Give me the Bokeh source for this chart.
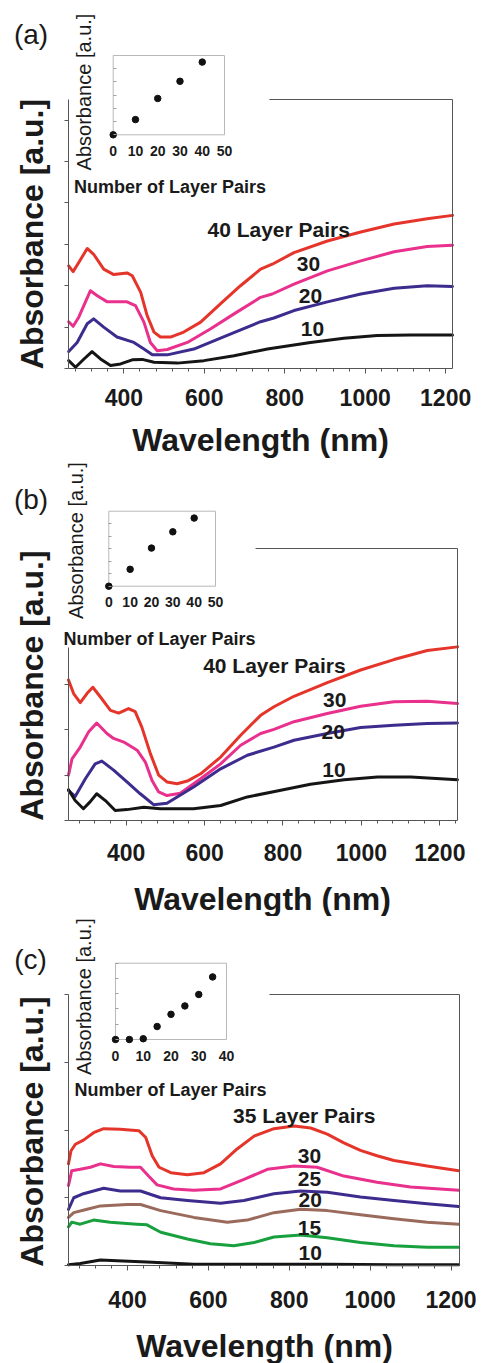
import math
from bokeh.plotting import figure
from bokeh.models import Range1d, LinearAxis, FixedTicker, SingleIntervalTicker, Label
from bokeh.layouts import column
from bokeh.embed import file_html
from bokeh.resources import INLINE
from bokeh.core.properties import value

FONT = "Liberation Sans"
INK = "#1a1a1a"
AXIS = "#555555"
BOXC = "#b8b8b8"
RED = "#e5352b"
PINK = "#e8308c"
PURPLE = "#3d2b8e"
BLACK = "#151515"
BROWN = "#9a6b5c"
GREEN = "#17a03d"

# ---------------- Panel (a) data ----------------
A_WL_40 = [263, 274, 288, 309, 325, 350, 375, 408, 421, 442, 458, 475, 491, 516, 549, 591, 640, 690, 740, 769, 823, 906, 989, 1072, 1154, 1217]
A_AB_40 = [2.48, 2.34, 2.56, 2.90, 2.76, 2.40, 2.27, 2.31, 2.24, 1.84, 1.28, 0.88, 0.76, 0.76, 0.88, 1.12, 1.56, 2.00, 2.40, 2.52, 2.80, 3.08, 3.30, 3.49, 3.62, 3.70]
A_WL_30 = [263, 274, 288, 317, 334, 359, 408, 429, 450, 466, 483, 508, 558, 616, 674, 740, 769, 823, 906, 989, 1072, 1154, 1217]
A_AB_30 = [1.13, 1.02, 1.24, 1.88, 1.76, 1.61, 1.61, 1.52, 1.12, 0.63, 0.43, 0.46, 0.63, 0.96, 1.32, 1.72, 1.80, 2.04, 2.36, 2.60, 2.82, 2.95, 2.98]
A_WL_20 = [263, 284, 309, 325, 350, 383, 425, 450, 471, 508, 574, 657, 740, 773, 823, 906, 989, 1072, 1154, 1217]
A_AB_20 = [0.41, 0.63, 1.08, 1.20, 1.00, 0.76, 0.63, 0.47, 0.33, 0.33, 0.47, 0.80, 1.13, 1.22, 1.40, 1.61, 1.80, 1.94, 2.00, 1.98]
A_WL_10 = [263, 280, 301, 321, 342, 367, 392, 421, 446, 475, 533, 599, 674, 757, 864, 947, 1030, 1113, 1217]
A_AB_10 = [0.19, 0.03, 0.23, 0.41, 0.23, 0.07, 0.11, 0.21, 0.22, 0.15, 0.13, 0.19, 0.31, 0.47, 0.63, 0.73, 0.80, 0.81, 0.81]
A_LABELS = ["40 Layer Pairs", "30", "20", "10"]
A_LABEL_X = [785, 859, 864, 869]
A_LABEL_Y = [3.35, 2.53, 1.76, 0.96]
A_INSET_N = [0, 10, 20, 30, 40]
A_INSET_ABS = [0.0, 0.23, 0.55, 0.81, 1.10]
A_INSET_TICKS = [0, 10, 20, 30, 40, 50]

# ---------------- Panel (b) data ----------------
B_WL_40 = [253, 266, 283, 300, 315, 334, 360, 381, 406, 423, 440, 462, 483, 504, 530, 556, 590, 641, 692, 743, 777, 828, 913, 998, 1083, 1168, 1245]
B_AB_40 = [3.10, 2.80, 2.60, 2.80, 2.94, 2.73, 2.43, 2.37, 2.47, 2.40, 2.06, 1.47, 1.00, 0.85, 0.81, 0.87, 1.03, 1.40, 1.88, 2.32, 2.51, 2.74, 3.04, 3.32, 3.55, 3.75, 3.83]
B_WL_30 = [253, 262, 283, 304, 325, 351, 368, 394, 428, 449, 466, 483, 504, 538, 590, 641, 692, 743, 777, 828, 913, 998, 1083, 1168, 1245]
B_AB_30 = [1.00, 1.36, 1.62, 1.95, 2.15, 1.92, 1.81, 1.73, 1.55, 1.29, 0.88, 0.63, 0.55, 0.60, 0.92, 1.25, 1.66, 1.92, 2.01, 2.18, 2.36, 2.52, 2.62, 2.63, 2.58]
B_WL_20 = [253, 270, 296, 321, 338, 368, 402, 436, 470, 504, 572, 641, 709, 777, 828, 913, 998, 1083, 1168, 1245]
B_AB_20 = [0.66, 0.53, 0.92, 1.25, 1.31, 1.11, 0.85, 0.59, 0.35, 0.38, 0.74, 1.14, 1.44, 1.62, 1.77, 1.92, 2.05, 2.10, 2.14, 2.15]
B_WL_10 = [253, 270, 291, 308, 325, 347, 372, 402, 445, 487, 572, 641, 709, 785, 870, 956, 1041, 1126, 1245]
B_AB_10 = [0.68, 0.44, 0.26, 0.41, 0.59, 0.44, 0.22, 0.24, 0.29, 0.26, 0.26, 0.33, 0.52, 0.65, 0.80, 0.90, 0.96, 0.96, 0.90]
B_LABELS = ["40 Layer Pairs", "30", "20", "10"]
B_LABEL_X = [778, 932, 928, 930]
B_LABEL_Y = [3.43, 2.65, 1.95, 1.11]
B_INSET_N = [0, 10, 20, 30, 40]
B_INSET_ABS = [0.0, 0.27, 0.61, 0.87, 1.09]
B_INSET_TICKS = [0, 10, 20, 30, 40, 50]

# ---------------- Panel (c) data ----------------
C_WL_35 = [254, 260, 271, 291, 316, 341, 382, 428, 445, 461, 478, 507, 548, 589, 630, 671, 713, 762, 812, 853, 894, 935, 976, 1017, 1059, 1141, 1219]
C_AB_35 = [1.50, 1.69, 1.79, 1.85, 1.96, 2.02, 2.01, 1.99, 1.89, 1.62, 1.45, 1.37, 1.34, 1.37, 1.50, 1.72, 1.91, 2.02, 2.06, 2.03, 1.94, 1.81, 1.70, 1.62, 1.55, 1.47, 1.40]
C_WL_30 = [254, 262, 283, 308, 333, 366, 407, 432, 452, 473, 514, 564, 630, 688, 746, 812, 869, 935, 1017, 1100, 1219]
C_AB_30 = [1.18, 1.40, 1.42, 1.45, 1.50, 1.46, 1.45, 1.45, 1.32, 1.19, 1.13, 1.11, 1.13, 1.27, 1.42, 1.47, 1.45, 1.32, 1.23, 1.16, 1.11]
C_WL_25 = [254, 267, 291, 341, 382, 432, 482, 548, 630, 688, 762, 828, 894, 976, 1059, 1141, 1219]
C_AB_25 = [0.83, 1.00, 1.06, 1.14, 1.10, 1.10, 1.00, 0.96, 0.92, 0.96, 1.06, 1.10, 1.08, 1.01, 0.96, 0.91, 0.87]
C_WL_20 = [254, 267, 300, 333, 399, 432, 482, 564, 647, 696, 762, 828, 894, 976, 1059, 1141, 1219]
C_AB_20 = [0.71, 0.78, 0.83, 0.88, 0.90, 0.90, 0.81, 0.71, 0.64, 0.67, 0.78, 0.83, 0.81, 0.75, 0.69, 0.64, 0.61]
C_WL_15 = [254, 262, 283, 316, 357, 423, 448, 482, 548, 605, 663, 713, 762, 828, 894, 976, 1059, 1141, 1219]
C_AB_15 = [0.57, 0.64, 0.61, 0.67, 0.64, 0.61, 0.60, 0.49, 0.39, 0.32, 0.29, 0.34, 0.42, 0.45, 0.41, 0.34, 0.29, 0.27, 0.27]
C_WL_10 = [254, 283, 333, 374, 448, 564, 729, 894, 1059, 1219]
C_AB_10 = [0.01, 0.03, 0.08, 0.07, 0.05, 0.02, 0.02, 0.02, 0.01, 0.01]
C_LABELS = ["35 Layer Pairs", "30", "25", "20", "15", "10"]
C_LABEL_X = [837, 850, 850, 852, 850, 852]
C_LABEL_Y = [2.21, 1.62, 1.27, 0.96, 0.56, 0.18]
C_INSET_N = [0, 5, 10, 15, 20, 25, 30, 35]
C_INSET_ABS = [0.0, 0.0, 0.01, 0.17, 0.33, 0.44, 0.59, 0.82]
C_INSET_TICKS = [0, 10, 20, 30, 40]

X_TITLE = "Wavelength (nm)"
Y_TITLE = "Absorbance [a.u.]"
INSET_X_TITLE = "Number of Layer Pairs"


def make_panel(cfg):
    W = 483
    H, XA, R, B, MT = cfg["H"], cfg["XA"], cfg["R"], cfg["B"], cfg["MT"]
    x0, x1 = cfg["xr"]
    ymain = cfg["ymain"]
    ppn = (R - XA) / (x1 - x0)
    ppu = (B - MT) / ymain
    xs, xe = x0 - XA / ppn, x1 + (W - R) / ppn
    ys, ye = -(H - B) / ppu, ymain + MT / ppu
    p = figure(width=W, height=H, x_range=Range1d(xs, xe), y_range=Range1d(ys, ye),
               min_border_left=0, min_border_right=0, min_border_top=0, min_border_bottom=0,
               x_axis_location=None, y_axis_location=None,
               output_backend="svg", toolbar_location=None, title=None)
    for g in p.grid:
        g.visible = False
    p.outline_line_color = None
    p.background_fill_color = "white"
    p.border_fill_color = "white"

    def dx(px):
        return xs + px / ppn

    def dy(py):
        return ye - py / ppu

    # main x axis
    xa = LinearAxis(fixed_location=0, bounds=(x0, x1),
                    ticker=SingleIntervalTicker(interval=200, num_minor_ticks=5),
                    major_label_text_font=FONT, major_label_text_font_size="23px",
                    major_label_text_font_style="bold", major_label_text_color=INK,
                    major_label_standoff=cfg["tick_standoff"],
                    axis_line_color=AXIS, major_tick_line_color=AXIS, minor_tick_line_color=AXIS,
                    major_tick_out=5, major_tick_in=0, minor_tick_out=3, minor_tick_in=0)
    p.add_layout(xa, "below")

    # main y axis (no tick labels)
    ya = LinearAxis(fixed_location=x0, bounds=(0, cfg["ybound"]),
                    ticker=SingleIntervalTicker(interval=1, num_minor_ticks=0),
                    major_label_text_font_size="0px", major_label_text_color=None,
                    axis_line_color=AXIS, major_tick_line_color=AXIS, minor_tick_line_color=None,
                    major_tick_out=4, major_tick_in=0)
    p.add_layout(ya, "left")

    # right border
    ra = LinearAxis(fixed_location=x1, bounds=(0, ymain), ticker=FixedTicker(ticks=[]),
                    axis_line_color=AXIS, major_tick_line_color=None, minor_tick_line_color=None,
                    major_label_text_font_size="0px")
    p.add_layout(ra, "right")
    # visible part of the top border
    p.line(x=[cfg["top_from"], x1], y=[ymain, ymain], line_color=AXIS, line_width=1)

    # curves
    for wl, ab, col in cfg["curves"]:
        p.line(x=wl, y=ab, line_color=col, line_width=3, line_join="round", line_cap="round")

    # curve labels
    p.text(x=cfg["lab_x"], y=cfg["lab_y"], text=cfg["labels"], text_font=value(FONT),
           text_font_style="bold", text_font_size="21px", text_color=INK,
           text_align="center", text_baseline="middle")

    # inset
    bx0, bx1, by0, by1 = cfg["ibox"]
    ixmax, iymax = cfg["ixmax"], cfg["iymax"]
    sx = (bx1 - bx0) / ixmax
    sy = (by1 - by0) / iymax
    p.extra_x_ranges = {"ix": Range1d(-bx0 / sx, ixmax + (W - bx1) / sx)}
    p.extra_y_ranges = {"iy": Range1d(-(H - by1) / sy, iymax + by0 / sy)}
    p.quad(left=[0], right=[ixmax], bottom=[0], top=[iymax], x_range_name="ix", y_range_name="iy",
           fill_color="white", fill_alpha=1.0, line_color=BOXC, line_width=1)
    p.scatter(x=cfg["in_n"], y=cfg["in_abs"], x_range_name="ix", y_range_name="iy",
              size=6.5, color="#111111")

    ixa = LinearAxis(x_range_name="ix", y_range_name="iy", fixed_location=0, bounds=(0, ixmax),
                     ticker=FixedTicker(ticks=cfg["in_ticks"]), axis_line_color=None,
                     major_tick_line_color=None, minor_tick_line_color=None,
                     major_tick_out=0, major_tick_in=0, major_label_standoff=cfg["in_standoff"],
                     major_label_text_font=FONT, major_label_text_font_size="14px",
                     major_label_text_font_style="bold", major_label_text_color=INK)
    p.add_layout(ixa, "below")
    iya = LinearAxis(x_range_name="ix", y_range_name="iy", fixed_location=0, bounds=(0, iymax),
                     ticker=SingleIntervalTicker(interval=0.2, num_minor_ticks=0),
                     axis_line_color=None, major_tick_line_color="#a0a0a0",
                     minor_tick_line_color=None, major_tick_out=0, major_tick_in=3,
                     major_label_text_font_size="0px", major_label_text_color=None)
    p.add_layout(iya, "left")

    # text labels
    lx, ly = cfg["letter"]
    p.add_layout(Label(x=dx(lx), y=dy(ly), text=cfg["letter_text"], text_font=FONT,
                       text_font_size="28px", text_color=INK, text_align="center",
                       text_baseline="middle"))
    tx, ty = cfg["ytitle"]
    p.add_layout(Label(x=dx(tx), y=dy(ty), text=Y_TITLE, text_font=FONT, text_font_size="32px",
                       text_font_style="bold", text_color=INK, angle=math.pi / 2,
                       text_align="center", text_baseline="middle"))
    wx, wy = cfg["xtitle"]
    p.add_layout(Label(x=dx(wx), y=dy(wy), text=X_TITLE, text_font=FONT, text_font_size="32px",
                       text_font_style="bold", text_color=INK,
                       text_align="center", text_baseline="middle"))
    ix, iy = cfg["iytitle"]
    p.add_layout(Label(x=dx(ix), y=dy(iy), text=Y_TITLE, text_font=FONT, text_font_size="20px",
                       text_color=INK, angle=math.pi / 2, text_align="center",
                       text_baseline="middle"))
    nx, ny = cfg["ixtitle"]
    p.add_layout(Label(x=dx(nx), y=dy(ny), text=INSET_X_TITLE, text_font=FONT,
                       text_font_size="18px", text_font_style="bold", text_color=INK,
                       text_align="center", text_baseline="middle"))
    return p


pa = make_panel(dict(
    H=460, XA=68, R=452, B=368, MT=99, xr=(262.5, 1217), ymain=6.5, ybound=6.5, top_from=762,
    tick_standoff=15,
    curves=[(A_WL_40, A_AB_40, RED), (A_WL_30, A_AB_30, PINK), (A_WL_20, A_AB_20, PURPLE),
            (A_WL_10, A_AB_10, BLACK)],
    labels=A_LABELS, lab_x=A_LABEL_X, lab_y=A_LABEL_Y,
    ibox=(112.7, 224, 55, 134.3), ixmax=50, iymax=1.2, in_n=A_INSET_N, in_abs=A_INSET_ABS,
    in_ticks=A_INSET_TICKS, in_standoff=11,
    letter=(30.5, 33.5), letter_text="(a)", ytitle=(31.5, 233.5), xtitle=(260, 439),
    iytitle=(83.5, 91.5), ixtitle=(169.5, 186.5)))

pb = make_panel(dict(
    H=456, XA=68, R=457, B=360, MT=88, xr=(253, 1245), ymain=6, ybound=3.82, top_from=730,
    tick_standoff=18,
    curves=[(B_WL_40, B_AB_40, RED), (B_WL_30, B_AB_30, PINK), (B_WL_20, B_AB_20, PURPLE),
            (B_WL_10, B_AB_10, BLACK)],
    labels=B_LABELS, lab_x=B_LABEL_X, lab_y=B_LABEL_Y,
    ibox=(108.3, 215, 50.7, 125.7), ixmax=50, iymax=1.2, in_n=B_INSET_N, in_abs=B_INSET_ABS,
    in_ticks=B_INSET_TICKS, in_standoff=11,
    letter=(30.5, 39), letter_text="(b)", ytitle=(31.5, 225), xtitle=(262, 438),
    iytitle=(75, 80), ixtitle=(159, 178.3)))

pc = make_panel(dict(
    H=447, XA=68, R=459, B=349, MT=78, xr=(254, 1221), ymain=4, ybound=4, top_from=751,
    tick_standoff=20,
    curves=[(C_WL_35, C_AB_35, RED), (C_WL_30, C_AB_30, PINK), (C_WL_25, C_AB_25, PURPLE),
            (C_WL_20, C_AB_20, BROWN), (C_WL_15, C_AB_15, GREEN), (C_WL_10, C_AB_10, BLACK)],
    labels=C_LABELS, lab_x=C_LABEL_X, lab_y=C_LABEL_Y,
    ibox=(115, 226, 46.7, 123), ixmax=40, iymax=1.0, in_n=C_INSET_N, in_abs=C_INSET_ABS,
    in_ticks=C_INSET_TICKS, in_standoff=11,
    letter=(30, 43), letter_text="(c)", ytitle=(31.5, 215), xtitle=(264, 429.5),
    iytitle=(83.5, 80), ixtitle=(170, 173.3)))

layout = column(pa, pb, pc, spacing=0)
open("out.html", "w").write(file_html(layout, INLINE))
